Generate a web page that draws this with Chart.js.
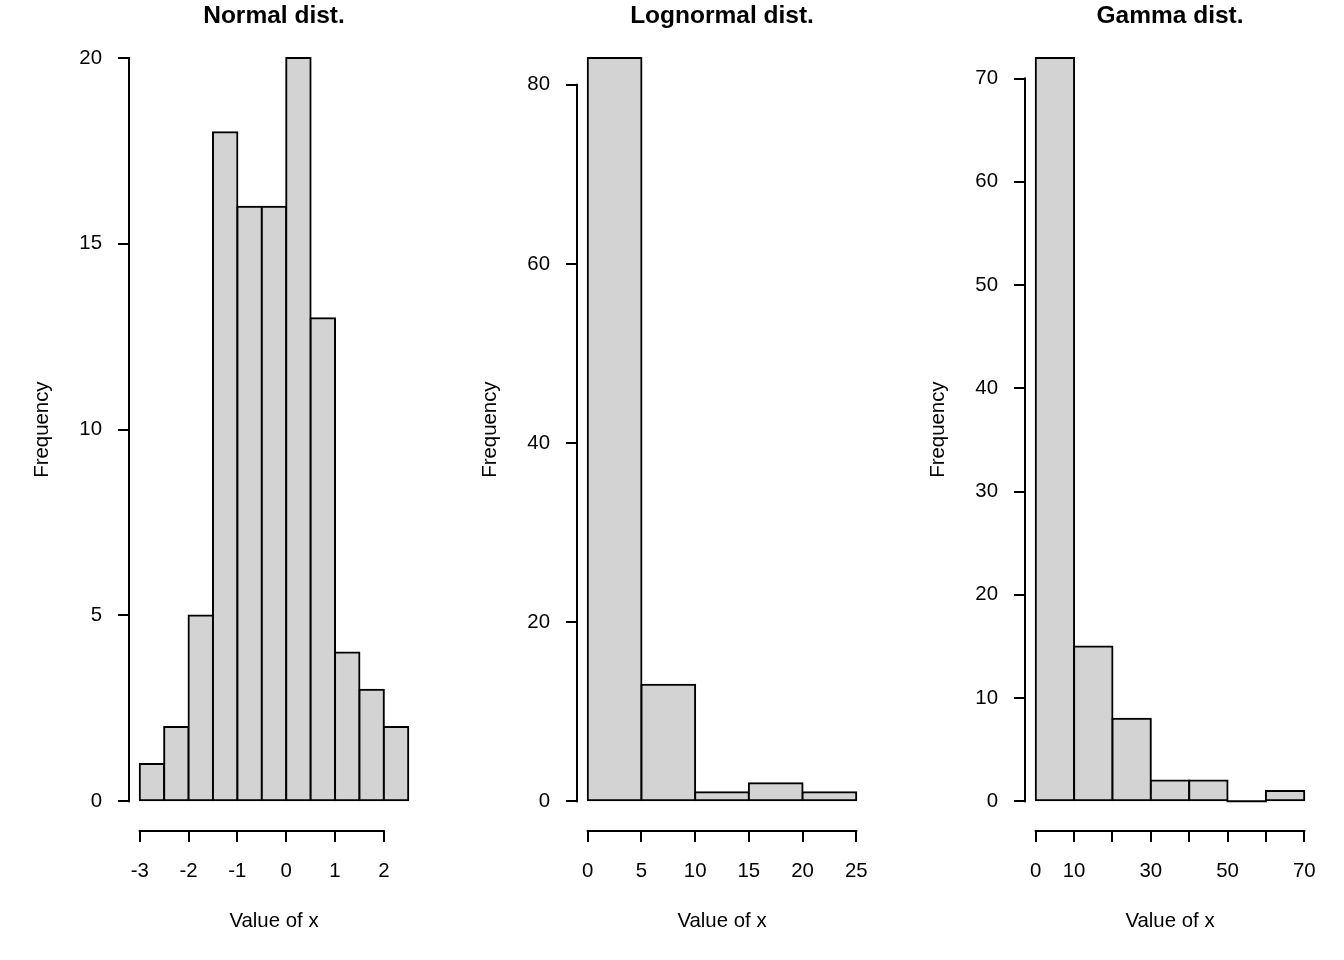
<!DOCTYPE html>
<html>
<head>
<meta charset="utf-8">
<script src="https://cdn.jsdelivr.net/npm/chart.js@4.4.1/dist/chart.umd.min.js"></script>
<style>
  html, body { margin: 0; padding: 0; background: #fff; }
  #wrap { display: flex; width: 1344px; height: 960px; }
  canvas { display: block; }
</style>
</head>
<body>
<div id="wrap">
  <canvas id="histNormal" width="448" height="960"></canvas>
  <canvas id="histLognormal" width="448" height="960"></canvas>
  <canvas id="histGamma" width="448" height="960"></canvas>
</div>
<script>
// bin edges and counts
const normalBreaks = [-3, -2.5, -2, -1.5, -1, -0.5, 0, 0.5, 1, 1.5, 2, 2.5];
const normalCounts = [1, 2, 5, 18, 16, 16, 20, 13, 4, 3, 2];
const normalXTicks = [-3, -2, -1, 0, 1, 2];
const normalXLabels = ['-3', '-2', '-1', '0', '1', '2'];
const normalYTicks = [0, 5, 10, 15, 20];

const lognormalBreaks = [0, 5, 10, 15, 20, 25];
const lognormalCounts = [83, 13, 1, 2, 1];
const lognormalXTicks = [0, 5, 10, 15, 20, 25];
const lognormalXLabels = ['0', '5', '10', '15', '20', '25'];
const lognormalYTicks = [0, 20, 40, 60, 80];

const gammaBreaks = [0, 10, 20, 30, 40, 50, 60, 70];
const gammaCounts = [72, 15, 8, 2, 2, 0, 1];
const gammaXTicks = [0, 10, 20, 30, 40, 50, 60, 70];
const gammaXLabels = ['0', '10', '', '30', '', '50', '', '70'];
const gammaYTicks = [0, 10, 20, 30, 40, 50, 60, 70];

const LINE = 2;
const FONT = "'Liberation Sans', Arial, sans-serif";

Chart.defaults.font.family = FONT;
Chart.defaults.font.size = 20.4;
Chart.defaults.color = '#000';

// R draws the axis line only from the first to the last tick
const rAxisLines = {
    id: 'rAxisLines',
    afterDraw(chart) {
        const { ctx, chartArea, scales: { x, y } } = chart;
        const xt = x.ticks, yt = y.ticks;
        ctx.save();
        ctx.strokeStyle = '#000';
        ctx.lineWidth = LINE;
        ctx.lineCap = 'square';
        ctx.beginPath();
        ctx.moveTo(x.getPixelForValue(xt[0].value), chartArea.bottom);
        ctx.lineTo(x.getPixelForValue(xt[xt.length - 1].value), chartArea.bottom);
        ctx.moveTo(chartArea.left, y.getPixelForValue(yt[0].value));
        ctx.lineTo(chartArea.left, y.getPixelForValue(yt[yt.length - 1].value));
        ctx.stroke();
        ctx.restore();
    }
};

// R pads the range of the data by 4% on each side
const extend = (lo, hi) => {
    const d = (hi - lo) * 0.04;
    return [lo - d, hi + d];
};

const esVacio = ctx => ctx.raw && ctx.raw.y === 0;

const makeHist = (id, title, breaks, counts, xTicks, xLabels, yTicks) => {
    const puntos = counts.map((c, i) => ({ x: (breaks[i] + breaks[i + 1]) / 2, y: c }));
    const [xmin, xmax] = extend(breaks[0], breaks[breaks.length - 1]);
    const [ymin, ymax] = extend(0, Math.max(...counts));

    const axisGrid = {
        drawOnChartArea: false,
        drawTicks: true,
        tickLength: 11,
        color: '#000',
        lineWidth: LINE,
        offset: false
    };

    new Chart(document.getElementById(id), {
        type: 'bar',
        data: {
            datasets: [{
                data: puntos,
                // an empty bin shows up as a flat black line, as in R
                backgroundColor: ctx => esVacio(ctx) ? '#000' : '#d3d3d3',
                borderColor: '#000',
                borderWidth: ctx => esVacio(ctx) ? 0 : LINE,
                borderSkipped: false,
                inflateAmount: LINE / 2,
                barPercentage: 1,
                categoryPercentage: 1
            }]
        },
        options: {
            responsive: false,
            animation: false,
            layout: { padding: { left: 0, right: 29, top: 0, bottom: 0 } },
            scales: {
                x: {
                    type: 'linear',
                    position: 'bottom',
                    min: xmin,
                    max: xmax,
                    offset: false,
                    afterBuildTicks: s => { s.ticks = xTicks.map(v => ({ value: v })); },
                    afterFit: s => { s.height = 129; },
                    grid: axisGrid,
                    border: { display: false },
                    ticks: {
                        autoSkip: false,
                        maxRotation: 0,
                        padding: 17,
                        callback: (v, i) => xLabels[i]
                    },
                    title: {
                        display: true,
                        text: 'Value of x',
                        padding: { top: 0, bottom: 26 }
                    }
                },
                y: {
                    type: 'linear',
                    min: ymin,
                    max: ymax,
                    afterBuildTicks: s => { s.ticks = yTicks.map(v => ({ value: v })); },
                    afterFit: s => { s.width = 129; },
                    grid: axisGrid,
                    border: { display: false },
                    ticks: {
                        autoSkip: false,
                        padding: 16,
                        callback: v => String(v)
                    },
                    title: {
                        display: true,
                        text: 'Frequency',
                        padding: { top: 30, bottom: 0 }
                    }
                }
            },
            plugins: {
                legend: { display: false },
                tooltip: { enabled: false },
                title: {
                    display: true,
                    text: title,
                    fullSize: false,
                    font: { size: 24.5, weight: 'bold', lineHeight: 1 },
                    padding: { top: 3.5, bottom: 0 }
                }
            }
        },
        plugins: [rAxisLines]
    });
};

makeHist('histNormal', 'Normal dist.', normalBreaks, normalCounts, normalXTicks, normalXLabels, normalYTicks);
makeHist('histLognormal', 'Lognormal dist.', lognormalBreaks, lognormalCounts, lognormalXTicks, lognormalXLabels, lognormalYTicks);
makeHist('histGamma', 'Gamma dist.', gammaBreaks, gammaCounts, gammaXTicks, gammaXLabels, gammaYTicks);
</script>
</body>
</html>
